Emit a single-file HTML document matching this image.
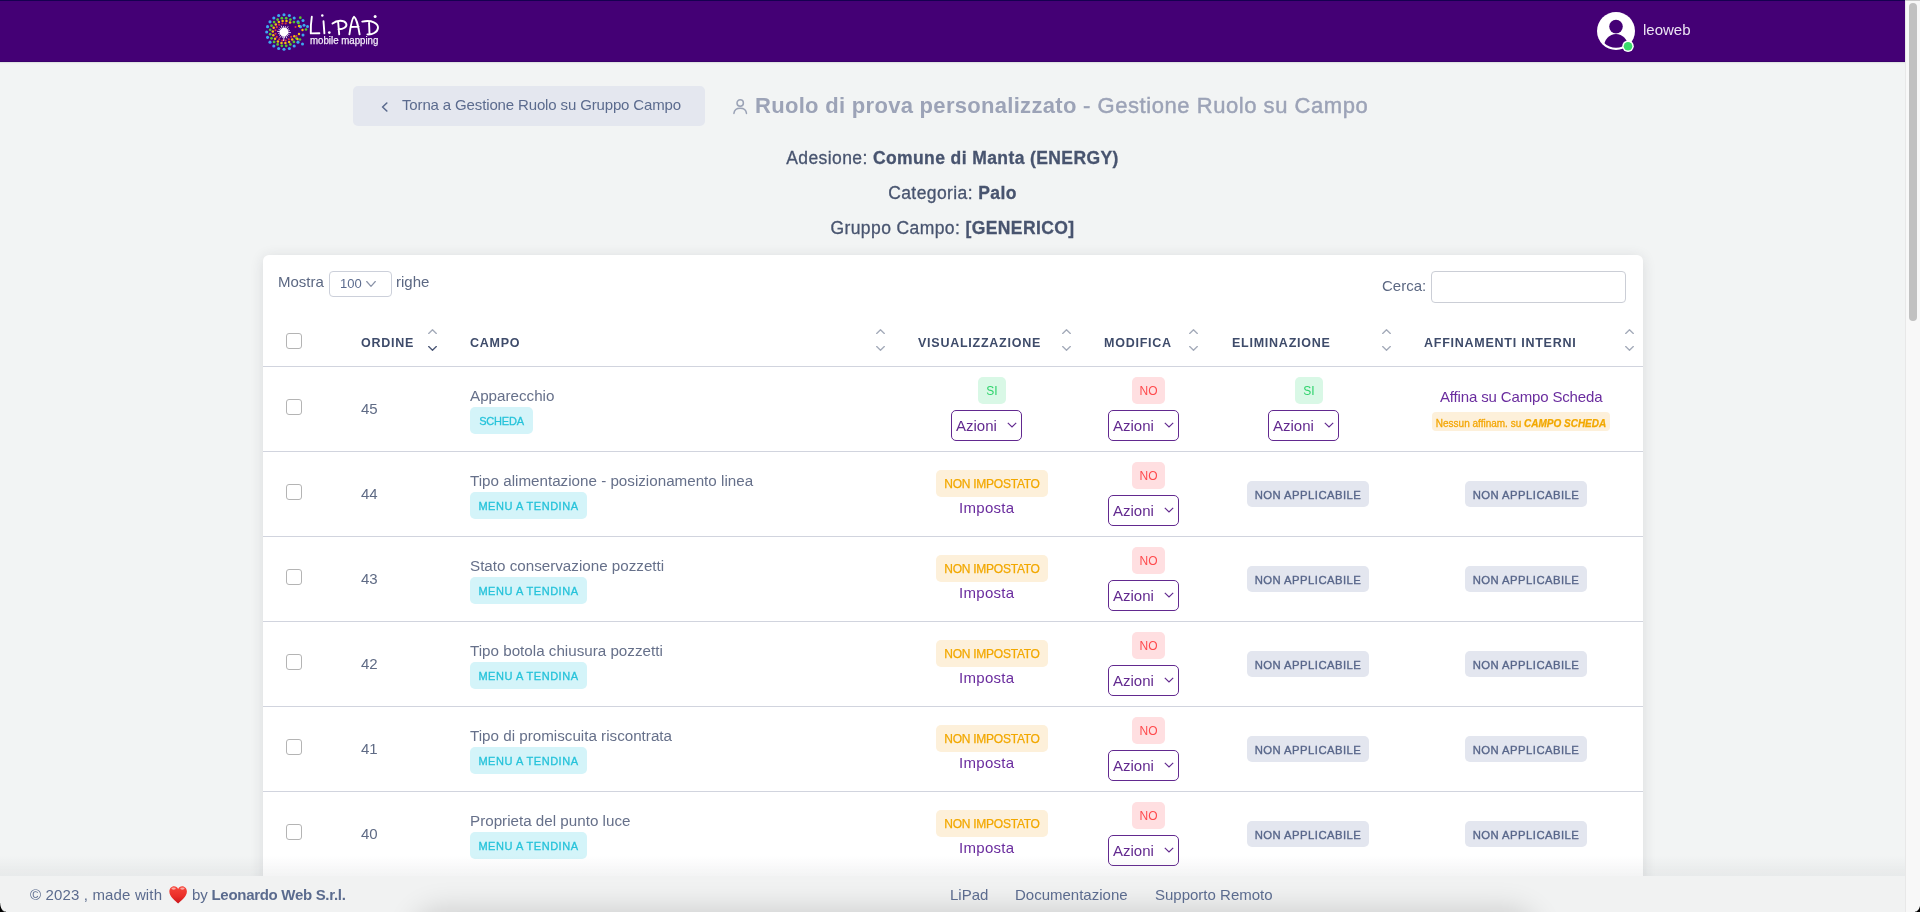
<!DOCTYPE html>
<html><head><meta charset="utf-8"><title>LiPad</title><style>
*{margin:0;padding:0;box-sizing:border-box}
html,body{width:1920px;height:912px;overflow:hidden;background:#f2f4f4;font-family:"Liberation Sans", sans-serif;position:relative}
#root{position:absolute;left:0;top:0;width:1920px;height:912px;overflow:hidden;will-change:transform}
.ab{position:absolute;display:block}
.tx{position:absolute;white-space:nowrap;line-height:1.2}
#hdr{position:absolute;left:0;top:0;width:1905px;height:62px;background:#440075;border-bottom:1px solid #3a006b;box-shadow:0 1px 1px rgba(60,70,65,0.10)}
#hdrline{position:absolute;left:0;top:0;width:1905px;height:1px;background:#160050}
#back{position:absolute;left:353px;top:86px;width:352px;height:40px;background:#e4e7ef;border-radius:5px}
.ctr{position:absolute;left:0;width:1905px;text-align:center;color:#48546f;line-height:1.2;white-space:nowrap;font-size:17.5px!important;letter-spacing:0.4px;-webkit-text-stroke:0.3px #48546f}
.ctr b{font-weight:bold}
#card{position:absolute;left:263px;top:255px;width:1380px;height:700px;background:#fff;border-radius:6px;box-shadow:0 2px 14px rgba(40,45,55,0.12)}
#sel{position:absolute;left:329px;top:271px;width:63px;height:26px;border:1px solid #ccd0da;border-radius:4px;font-size:13px;color:#5b6b8e}
#sel span{position:absolute;left:10px;top:4px}
#srch{position:absolute;left:1431px;top:271px;width:195px;height:32px;border:1px solid #cbced6;border-radius:4px}
.cb{position:absolute;width:16px;height:16px;border:1px solid #b4b4b4;border-radius:3px;background:#fff}
.th{position:absolute;font-size:12.5px;font-weight:bold;letter-spacing:0.75px;color:#3e4b6a;line-height:15px;white-space:nowrap}
.hl{position:absolute;left:263px;width:1380px;height:1px;background:#d1d4de}
.num{font-size:15px;color:#5f6b85}
.nm{font-size:15.2px;color:#66708a}
.lnk{font-size:15px;color:#6a2c9e;letter-spacing:-0.15px}
.bd{position:absolute;text-align:center;border-radius:5px;font-size:12px;white-space:nowrap}
.info{background:#d4f4f9;color:#22c2da;-webkit-text-stroke:0.3px #26c3da;color:#26c3da;font-size:11px!important}
.succ{background:#d9f8e6;color:#2fd36c}
.dang{background:#ffdfe1;color:#ff4a4d}
.warn{background:#fdf0da;color:#f2a800;-webkit-text-stroke:0.25px #f2a800}
.sec{background:#e3e6ef;color:#58668a;-webkit-text-stroke:0.35px #58668a;font-size:11.3px!important}
.sm{font-size:10px;font-weight:bold;border-radius:4px}
.az{position:absolute;width:71px;height:31px;border:1.3px solid #62298f;border-radius:5px;background:#fff;color:#62298f;font-size:15px}
.az span{position:absolute;left:4px;top:6px}
#fshadow{position:absolute;left:0;top:856px;width:1905px;height:20px;background:linear-gradient(to bottom,rgba(140,145,150,0),rgba(140,145,150,0.10))}
#foot{position:absolute;left:0;top:876px;width:1905px;height:36px;background:#f1f2f2;overflow:hidden}
#bsh{position:absolute;left:420px;top:40px;width:1110px;height:40px;border-radius:20px;box-shadow:0 0 30px 6px rgba(0,0,0,0.16)}
.cor{position:absolute;width:7px;height:7px}
.ft{font-size:15px;color:#5b6b8e;top:886px!important}
.ft b{font-weight:bold}
#sbt{position:absolute;left:1905px;top:0;width:15px;height:912px;background:#f8f8f8;border-left:1px solid #e8e8e8}
#sbth{position:absolute;left:1909px;top:3px;width:8px;height:318px;background:#c1c1c1;border-radius:4px}
#sbtop{position:absolute;left:1905px;top:0;width:15px;height:1px;background:#cacaca}
</style></head>
<body><div id="root">
<div id="hdr"></div><div id="hdrline"></div><svg class="ab" style="left:262px;top:8px" width="122" height="46" viewBox="0 0 122 46"><circle cx="36.00" cy="34.17" r="1.55" fill="#3da9f0"/><circle cx="32.17" cy="38.00" r="1.55" fill="#3da9f0"/><circle cx="27.35" cy="40.45" r="1.55" fill="#3da9f0"/><circle cx="22.00" cy="41.30" r="1.55" fill="#3da9f0"/><circle cx="16.65" cy="40.45" r="1.55" fill="#3da9f0"/><circle cx="11.83" cy="38.00" r="1.55" fill="#3da9f0"/><circle cx="8.00" cy="34.17" r="1.55" fill="#3da9f0"/><circle cx="5.55" cy="29.35" r="1.55" fill="#3da9f0"/><circle cx="4.70" cy="24.00" r="1.55" fill="#3da9f0"/><circle cx="5.55" cy="18.65" r="1.55" fill="#3da9f0"/><circle cx="8.00" cy="13.83" r="1.55" fill="#3da9f0"/><circle cx="11.83" cy="10.00" r="1.55" fill="#3da9f0"/><circle cx="16.65" cy="7.55" r="1.55" fill="#3da9f0"/><circle cx="22.00" cy="6.70" r="1.55" fill="#3da9f0"/><circle cx="27.35" cy="7.55" r="1.55" fill="#3da9f0"/><circle cx="32.17" cy="10.00" r="1.55" fill="#3da9f0"/><circle cx="36.00" cy="13.83" r="1.55" fill="#3da9f0"/><circle cx="38.45" cy="18.65" r="1.55" fill="#3da9f0"/><circle cx="34.47" cy="30.36" r="1.35" fill="#56c92a"/><circle cx="31.90" cy="33.90" r="1.35" fill="#56c92a"/><circle cx="28.36" cy="36.47" r="1.35" fill="#56c92a"/><circle cx="24.19" cy="37.83" r="1.35" fill="#56c92a"/><circle cx="19.81" cy="37.83" r="1.35" fill="#56c92a"/><circle cx="15.64" cy="36.47" r="1.35" fill="#56c92a"/><circle cx="12.10" cy="33.90" r="1.35" fill="#56c92a"/><circle cx="9.53" cy="30.36" r="1.35" fill="#56c92a"/><circle cx="8.17" cy="26.19" r="1.35" fill="#56c92a"/><circle cx="8.17" cy="21.81" r="1.35" fill="#56c92a"/><circle cx="9.53" cy="17.64" r="1.35" fill="#56c92a"/><circle cx="12.10" cy="14.10" r="1.35" fill="#56c92a"/><circle cx="15.64" cy="11.53" r="1.35" fill="#56c92a"/><circle cx="19.81" cy="10.17" r="1.35" fill="#56c92a"/><circle cx="24.19" cy="10.17" r="1.35" fill="#56c92a"/><circle cx="28.36" cy="11.53" r="1.35" fill="#56c92a"/><circle cx="31.90" cy="14.10" r="1.35" fill="#56c92a"/><circle cx="32.32" cy="28.35" r="1.25" fill="#f2c10e"/><circle cx="30.21" cy="31.62" r="1.25" fill="#f2c10e"/><circle cx="27.11" cy="33.97" r="1.25" fill="#f2c10e"/><circle cx="23.39" cy="35.11" r="1.25" fill="#f2c10e"/><circle cx="19.51" cy="34.92" r="1.25" fill="#f2c10e"/><circle cx="15.92" cy="33.41" r="1.25" fill="#f2c10e"/><circle cx="13.07" cy="30.76" r="1.25" fill="#f2c10e"/><circle cx="11.30" cy="27.30" r="1.25" fill="#f2c10e"/><circle cx="10.81" cy="23.44" r="1.25" fill="#f2c10e"/><circle cx="11.68" cy="19.65" r="1.25" fill="#f2c10e"/><circle cx="13.79" cy="16.38" r="1.25" fill="#f2c10e"/><circle cx="16.89" cy="14.03" r="1.25" fill="#f2c10e"/><circle cx="20.61" cy="12.89" r="1.25" fill="#f2c10e"/><circle cx="24.49" cy="13.08" r="1.25" fill="#f2c10e"/><circle cx="28.08" cy="14.59" r="1.25" fill="#f2c10e"/><circle cx="29.23" cy="28.83" r="1.05" fill="#e2383f"/><circle cx="26.83" cy="31.23" r="1.05" fill="#e2383f"/><circle cx="23.70" cy="32.53" r="1.05" fill="#e2383f"/><circle cx="20.30" cy="32.53" r="1.05" fill="#e2383f"/><circle cx="17.17" cy="31.23" r="1.05" fill="#e2383f"/><circle cx="14.77" cy="28.83" r="1.05" fill="#e2383f"/><circle cx="13.47" cy="25.70" r="1.05" fill="#e2383f"/><circle cx="13.47" cy="22.30" r="1.05" fill="#e2383f"/><circle cx="14.77" cy="19.17" r="1.05" fill="#e2383f"/><circle cx="17.17" cy="16.77" r="1.05" fill="#e2383f"/><circle cx="20.30" cy="15.47" r="1.05" fill="#e2383f"/><circle cx="23.70" cy="15.47" r="1.05" fill="#e2383f"/><circle cx="38.30" cy="9.70" r="1.35" fill="#56c92a"/><circle cx="41.00" cy="12.50" r="1.5" fill="#3da9f0"/><circle cx="42.00" cy="17.30" r="1.5" fill="#3da9f0"/><circle cx="36.50" cy="15.00" r="1.3" fill="#56c92a"/><circle cx="37.00" cy="18.00" r="1.2" fill="#f2c10e"/><circle cx="40.50" cy="22.00" r="1.2" fill="#f2c10e"/><circle cx="45.50" cy="18.50" r="1.5" fill="#3da9f0"/><circle cx="44.00" cy="21.50" r="1.3" fill="#56c92a"/><circle cx="41.00" cy="27.00" r="1.5" fill="#3da9f0"/><circle cx="37.00" cy="26.00" r="1.2" fill="#f2c10e"/><circle cx="38.00" cy="31.50" r="1.3" fill="#56c92a"/><circle cx="40.50" cy="36.00" r="1.5" fill="#3da9f0"/><circle cx="35.50" cy="31.00" r="1.2" fill="#f2c10e"/><circle cx="34.50" cy="28.00" r="1.0" fill="#e2383f"/><circle cx="33.50" cy="19.00" r="1.0" fill="#e2383f"/><circle cx="22.0" cy="24.0" r="4.3" fill="#fff"/><line x1="25.48" y1="24.35" x2="28.57" y2="24.66" stroke="#fff" stroke-width="0.8" stroke-linecap="round"/><line x1="25.15" y1="25.52" x2="27.04" y2="26.43" stroke="#fff" stroke-width="0.8" stroke-linecap="round"/><line x1="24.44" y1="26.51" x2="25.91" y2="28.01" stroke="#fff" stroke-width="0.8" stroke-linecap="round"/><line x1="23.44" y1="27.19" x2="24.71" y2="30.02" stroke="#fff" stroke-width="0.8" stroke-linecap="round"/><line x1="22.26" y1="27.49" x2="22.42" y2="29.58" stroke="#fff" stroke-width="0.8" stroke-linecap="round"/><line x1="21.05" y1="27.37" x2="20.48" y2="29.39" stroke="#fff" stroke-width="0.8" stroke-linecap="round"/><line x1="19.96" y1="26.84" x2="18.15" y2="29.36" stroke="#fff" stroke-width="0.8" stroke-linecap="round"/><line x1="19.11" y1="25.97" x2="17.37" y2="27.15" stroke="#fff" stroke-width="0.8" stroke-linecap="round"/><line x1="18.61" y1="24.86" x2="16.57" y2="25.38" stroke="#fff" stroke-width="0.8" stroke-linecap="round"/><line x1="18.52" y1="23.65" x2="15.43" y2="23.34" stroke="#fff" stroke-width="0.8" stroke-linecap="round"/><line x1="18.85" y1="22.48" x2="16.96" y2="21.57" stroke="#fff" stroke-width="0.8" stroke-linecap="round"/><line x1="19.56" y1="21.49" x2="18.09" y2="19.99" stroke="#fff" stroke-width="0.8" stroke-linecap="round"/><line x1="20.56" y1="20.81" x2="19.29" y2="17.98" stroke="#fff" stroke-width="0.8" stroke-linecap="round"/><line x1="21.74" y1="20.51" x2="21.58" y2="18.42" stroke="#fff" stroke-width="0.8" stroke-linecap="round"/><line x1="22.95" y1="20.63" x2="23.52" y2="18.61" stroke="#fff" stroke-width="0.8" stroke-linecap="round"/><line x1="24.04" y1="21.16" x2="25.85" y2="18.64" stroke="#fff" stroke-width="0.8" stroke-linecap="round"/><line x1="24.89" y1="22.03" x2="26.63" y2="20.85" stroke="#fff" stroke-width="0.8" stroke-linecap="round"/><line x1="25.39" y1="23.14" x2="27.43" y2="22.62" stroke="#fff" stroke-width="0.8" stroke-linecap="round"/><line x1="22.0" y1="28.0" x2="21.7" y2="33.0" stroke="#fff" stroke-width="0.9"/><path d="M49.80 8.80 C49.00 14.00 48.60 21.00 48.80 25.40 L57.40 25.20" fill="none" stroke="#fff" stroke-width="1.9" stroke-linecap="round" stroke-linejoin="round"/><path d="M61.50 13.30 L62.40 25.40" fill="none" stroke="#fff" stroke-width="1.9" stroke-linecap="round" stroke-linejoin="round"/><circle cx="60.30" cy="7.40" r="1.25" fill="#fff"/><circle cx="67.30" cy="24.60" r="1.35" fill="#fff"/><path d="M76.20 14.50 L77.20 26.40 M70.50 15.60 C75.00 12.00 82.00 11.80 84.20 15.50 C85.50 19.00 81.00 21.30 76.50 21.20" fill="none" stroke="#fff" stroke-width="1.9" stroke-linecap="round" stroke-linejoin="round"/><path d="M87.40 26.30 C88.50 19.00 90.00 10.00 92.00 8.80 C94.00 10.00 96.50 19.00 97.60 26.30 M88.60 19.00 L96.60 18.60" fill="none" stroke="#fff" stroke-width="1.9" stroke-linecap="round" stroke-linejoin="round"/><path d="M107.00 13.80 L107.50 26.00 M100.20 13.60 C110.00 11.50 116.20 15.50 116.00 19.80 C115.50 24.50 110.00 26.80 105.40 26.40" fill="none" stroke="#fff" stroke-width="1.9" stroke-linecap="round" stroke-linejoin="round"/><circle cx="113.10" cy="8.60" r="1.5" fill="#fff"/><text x="48" y="35.8" font-family="Liberation Sans" font-size="10.4" fill="#f4eefa" stroke="#f4eefa" stroke-width="0.25" textLength="68.4" lengthAdjust="spacingAndGlyphs">mobile mapping</text></svg><svg class="ab" style="left:1596px;top:11px" width="44" height="44" viewBox="0 0 44 44">
<circle cx="20" cy="20" r="19" fill="#fff"/>
<circle cx="20" cy="20" r="16.8" fill="none"/>
<circle cx="20" cy="15.6" r="6.8" fill="#440075"/>
<clipPath id="ac"><circle cx="20" cy="20" r="16.8"/></clipPath>
<ellipse cx="20" cy="36" rx="12" ry="13" fill="#440075" clip-path="url(#ac)"/>
<circle cx="32" cy="35.2" r="5.8" fill="#fff"/>
<circle cx="32" cy="35.2" r="4.3" fill="#39da6a"/>
</svg><div class="tx" style="left:1643px;top:21px;font-size:15px;color:#ece4f4">leoweb</div><div id="back"></div><svg class="ab" style="left:381px;top:102px" width="7" height="10" viewBox="0 0 7 10"><path d="M5.8 1 L1.6 5 L5.8 9" fill="none" stroke="#5b6b8e" stroke-width="1.6" stroke-linecap="round" stroke-linejoin="round"/></svg><div class="tx" style="left:402px;top:96px;font-size:15px;letter-spacing:-0.14px;color:#5b6b8e">Torna a Gestione Ruolo su Gruppo Campo</div><svg class="ab" style="left:733px;top:99px" width="15" height="16" viewBox="0 0 15 16"><circle cx="7.2" cy="4.05" r="3.2" fill="none" stroke="#9ba3b6" stroke-width="1.5"/><path d="M0.9 14.4 C1.3 11 3.6 9.3 7.2 9.3 C10.8 9.3 13.1 11 13.5 14.4" fill="none" stroke="#9ba3b6" stroke-width="1.5" stroke-linecap="round"/></svg><div class="tx" style="left:755px;top:93px;font-size:22px;color:#9ca3b7;font-weight:bold;letter-spacing:0.3px">Ruolo di prova personalizzato <span style="font-weight:normal;-webkit-text-stroke:0.45px #9ca3b7;letter-spacing:0.55px">- Gestione Ruolo su Campo</span></div><div class="ctr" style="top:148px;font-size:18px">Adesione: <b>Comune di Manta (ENERGY)</b></div><div class="ctr" style="top:183px;font-size:18px">Categoria: <b>Palo</b></div><div class="ctr" style="top:218px;font-size:18px">Gruppo Campo: <b>[GENERICO]</b></div><div id="card"></div><div class="tx" style="left:278px;top:273px;font-size:15px;color:#5c6883">Mostra</div><div id="sel"><span>100</span></div><svg class="ab" style="left:366px;top:281px" width="10" height="6" viewBox="0 0 10 6"><path d="M0.7 0.5 L5.0 5.3 L9.3 0.5" fill="none" stroke="#8a93a8" stroke-width="1.2" stroke-linecap="round" stroke-linejoin="round"/></svg><div class="tx" style="left:396px;top:273px;font-size:15px;color:#5c6883">righe</div><div class="tx" style="left:1382px;top:277px;font-size:15px;color:#5c6883">Cerca:</div><div id="srch"></div><div class="cb" style="left:286px;top:333px"></div><div class="th" style="left:361px;top:336px">ORDINE</div><div class="th" style="left:470px;top:336px">CAMPO</div><div class="th" style="left:918px;top:336px">VISUALIZZAZIONE</div><div class="th" style="left:1104px;top:336px">MODIFICA</div><div class="th" style="left:1232px;top:336px">ELIMINAZIONE</div><div class="th" style="left:1424px;top:336px">AFFINAMENTI INTERNI</div><svg class="ab" style="left:428px;top:328.5px" width="9" height="5" viewBox="0 0 9 5"><path d="M0.7 4.5 L4.5 0.7 L8.3 4.5" fill="none" stroke="#a3aab9" stroke-width="1.3" stroke-linecap="round" stroke-linejoin="round"/></svg><svg class="ab" style="left:428px;top:345.5px" width="9" height="5" viewBox="0 0 9 5"><path d="M0.7 0.5 L4.5 4.3 L8.3 0.5" fill="none" stroke="#4a5675" stroke-width="1.3" stroke-linecap="round" stroke-linejoin="round"/></svg><svg class="ab" style="left:876px;top:328.5px" width="9" height="5" viewBox="0 0 9 5"><path d="M0.7 4.5 L4.5 0.7 L8.3 4.5" fill="none" stroke="#a3aab9" stroke-width="1.3" stroke-linecap="round" stroke-linejoin="round"/></svg><svg class="ab" style="left:876px;top:345.5px" width="9" height="5" viewBox="0 0 9 5"><path d="M0.7 0.5 L4.5 4.3 L8.3 0.5" fill="none" stroke="#a3aab9" stroke-width="1.3" stroke-linecap="round" stroke-linejoin="round"/></svg><svg class="ab" style="left:1062px;top:328.5px" width="9" height="5" viewBox="0 0 9 5"><path d="M0.7 4.5 L4.5 0.7 L8.3 4.5" fill="none" stroke="#a3aab9" stroke-width="1.3" stroke-linecap="round" stroke-linejoin="round"/></svg><svg class="ab" style="left:1062px;top:345.5px" width="9" height="5" viewBox="0 0 9 5"><path d="M0.7 0.5 L4.5 4.3 L8.3 0.5" fill="none" stroke="#a3aab9" stroke-width="1.3" stroke-linecap="round" stroke-linejoin="round"/></svg><svg class="ab" style="left:1189px;top:328.5px" width="9" height="5" viewBox="0 0 9 5"><path d="M0.7 4.5 L4.5 0.7 L8.3 4.5" fill="none" stroke="#a3aab9" stroke-width="1.3" stroke-linecap="round" stroke-linejoin="round"/></svg><svg class="ab" style="left:1189px;top:345.5px" width="9" height="5" viewBox="0 0 9 5"><path d="M0.7 0.5 L4.5 4.3 L8.3 0.5" fill="none" stroke="#a3aab9" stroke-width="1.3" stroke-linecap="round" stroke-linejoin="round"/></svg><svg class="ab" style="left:1382px;top:328.5px" width="9" height="5" viewBox="0 0 9 5"><path d="M0.7 4.5 L4.5 0.7 L8.3 4.5" fill="none" stroke="#a3aab9" stroke-width="1.3" stroke-linecap="round" stroke-linejoin="round"/></svg><svg class="ab" style="left:1382px;top:345.5px" width="9" height="5" viewBox="0 0 9 5"><path d="M0.7 0.5 L4.5 4.3 L8.3 0.5" fill="none" stroke="#a3aab9" stroke-width="1.3" stroke-linecap="round" stroke-linejoin="round"/></svg><svg class="ab" style="left:1625px;top:328.5px" width="9" height="5" viewBox="0 0 9 5"><path d="M0.7 4.5 L4.5 0.7 L8.3 4.5" fill="none" stroke="#a3aab9" stroke-width="1.3" stroke-linecap="round" stroke-linejoin="round"/></svg><svg class="ab" style="left:1625px;top:345.5px" width="9" height="5" viewBox="0 0 9 5"><path d="M0.7 0.5 L4.5 4.3 L8.3 0.5" fill="none" stroke="#a3aab9" stroke-width="1.3" stroke-linecap="round" stroke-linejoin="round"/></svg><div class="hl" style="top:366px"></div><div class="hl" style="top:451px"></div><div class="cb" style="left:286px;top:399px"></div><div class="tx num" style="left:361px;top:400px">45</div><div class="tx nm" style="left:470px;top:387px">Apparecchio</div><div class="bd info" style="left:470px;top:407px;width:63px;height:27px;line-height:29px;letter-spacing:-0.22px">SCHEDA</div><div class="bd succ" style="left:978px;top:377px;width:28px;height:27px;line-height:29px;letter-spacing:0px">SI</div><div class="az" style="left:951px;top:410px"><span>Azioni</span><svg class="ab" style="left:55px;top:10.5px" width="10" height="6" viewBox="0 0 10 6"><path d="M0.8 0.8 L5 5 L9.2 0.8" fill="none" stroke="#62298f" stroke-width="1.15"/></svg></div><div class="bd dang" style="left:1132px;top:377px;width:33px;height:27px;line-height:29px;letter-spacing:0px">NO</div><div class="az" style="left:1108px;top:410px"><span>Azioni</span><svg class="ab" style="left:55px;top:10.5px" width="10" height="6" viewBox="0 0 10 6"><path d="M0.8 0.8 L5 5 L9.2 0.8" fill="none" stroke="#62298f" stroke-width="1.15"/></svg></div><div class="bd succ" style="left:1295px;top:377px;width:28px;height:27px;line-height:29px;letter-spacing:0px">SI</div><div class="az" style="left:1268px;top:410px"><span>Azioni</span><svg class="ab" style="left:55px;top:10.5px" width="10" height="6" viewBox="0 0 10 6"><path d="M0.8 0.8 L5 5 L9.2 0.8" fill="none" stroke="#62298f" stroke-width="1.15"/></svg></div><div class="tx lnk" style="left:1440px;top:388px">Affina su Campo Scheda</div><div class="bd warn sm" style="left:1432px;top:412px;width:178px;height:19px;line-height:23px"><span style="font-weight:normal;-webkit-text-stroke:0.3px #f5a70e">Nessun affinam. su</span> <i>CAMPO SCHEDA</i></div><div class="hl" style="top:536px"></div><div class="cb" style="left:286px;top:484px"></div><div class="tx num" style="left:361px;top:485px">44</div><div class="tx nm" style="left:470px;top:472px">Tipo alimentazione - posizionamento linea</div><div class="bd info" style="left:470px;top:492px;width:117px;height:27px;line-height:29px;letter-spacing:0.53px">MENU A TENDINA</div><div class="bd warn" style="left:936px;top:470px;width:112px;height:27px;line-height:29px;letter-spacing:-0.25px">NON IMPOSTATO</div><div class="tx lnk" style="left:959px;top:499px;letter-spacing:0.3px">Imposta</div><div class="bd dang" style="left:1132px;top:462px;width:33px;height:27px;line-height:29px;letter-spacing:0px">NO</div><div class="az" style="left:1108px;top:495px"><span>Azioni</span><svg class="ab" style="left:55px;top:10.5px" width="10" height="6" viewBox="0 0 10 6"><path d="M0.8 0.8 L5 5 L9.2 0.8" fill="none" stroke="#62298f" stroke-width="1.15"/></svg></div><div class="bd sec" style="left:1247px;top:481px;width:122px;height:26px;line-height:28px;letter-spacing:0.45px">NON APPLICABILE</div><div class="bd sec" style="left:1465px;top:481px;width:122px;height:26px;line-height:28px;letter-spacing:0.45px">NON APPLICABILE</div><div class="hl" style="top:621px"></div><div class="cb" style="left:286px;top:569px"></div><div class="tx num" style="left:361px;top:570px">43</div><div class="tx nm" style="left:470px;top:557px">Stato conservazione pozzetti</div><div class="bd info" style="left:470px;top:577px;width:117px;height:27px;line-height:29px;letter-spacing:0.53px">MENU A TENDINA</div><div class="bd warn" style="left:936px;top:555px;width:112px;height:27px;line-height:29px;letter-spacing:-0.25px">NON IMPOSTATO</div><div class="tx lnk" style="left:959px;top:584px;letter-spacing:0.3px">Imposta</div><div class="bd dang" style="left:1132px;top:547px;width:33px;height:27px;line-height:29px;letter-spacing:0px">NO</div><div class="az" style="left:1108px;top:580px"><span>Azioni</span><svg class="ab" style="left:55px;top:10.5px" width="10" height="6" viewBox="0 0 10 6"><path d="M0.8 0.8 L5 5 L9.2 0.8" fill="none" stroke="#62298f" stroke-width="1.15"/></svg></div><div class="bd sec" style="left:1247px;top:566px;width:122px;height:26px;line-height:28px;letter-spacing:0.45px">NON APPLICABILE</div><div class="bd sec" style="left:1465px;top:566px;width:122px;height:26px;line-height:28px;letter-spacing:0.45px">NON APPLICABILE</div><div class="hl" style="top:706px"></div><div class="cb" style="left:286px;top:654px"></div><div class="tx num" style="left:361px;top:655px">42</div><div class="tx nm" style="left:470px;top:642px">Tipo botola chiusura pozzetti</div><div class="bd info" style="left:470px;top:662px;width:117px;height:27px;line-height:29px;letter-spacing:0.53px">MENU A TENDINA</div><div class="bd warn" style="left:936px;top:640px;width:112px;height:27px;line-height:29px;letter-spacing:-0.25px">NON IMPOSTATO</div><div class="tx lnk" style="left:959px;top:669px;letter-spacing:0.3px">Imposta</div><div class="bd dang" style="left:1132px;top:632px;width:33px;height:27px;line-height:29px;letter-spacing:0px">NO</div><div class="az" style="left:1108px;top:665px"><span>Azioni</span><svg class="ab" style="left:55px;top:10.5px" width="10" height="6" viewBox="0 0 10 6"><path d="M0.8 0.8 L5 5 L9.2 0.8" fill="none" stroke="#62298f" stroke-width="1.15"/></svg></div><div class="bd sec" style="left:1247px;top:651px;width:122px;height:26px;line-height:28px;letter-spacing:0.45px">NON APPLICABILE</div><div class="bd sec" style="left:1465px;top:651px;width:122px;height:26px;line-height:28px;letter-spacing:0.45px">NON APPLICABILE</div><div class="hl" style="top:791px"></div><div class="cb" style="left:286px;top:739px"></div><div class="tx num" style="left:361px;top:740px">41</div><div class="tx nm" style="left:470px;top:727px">Tipo di promiscuita riscontrata</div><div class="bd info" style="left:470px;top:747px;width:117px;height:27px;line-height:29px;letter-spacing:0.53px">MENU A TENDINA</div><div class="bd warn" style="left:936px;top:725px;width:112px;height:27px;line-height:29px;letter-spacing:-0.25px">NON IMPOSTATO</div><div class="tx lnk" style="left:959px;top:754px;letter-spacing:0.3px">Imposta</div><div class="bd dang" style="left:1132px;top:717px;width:33px;height:27px;line-height:29px;letter-spacing:0px">NO</div><div class="az" style="left:1108px;top:750px"><span>Azioni</span><svg class="ab" style="left:55px;top:10.5px" width="10" height="6" viewBox="0 0 10 6"><path d="M0.8 0.8 L5 5 L9.2 0.8" fill="none" stroke="#62298f" stroke-width="1.15"/></svg></div><div class="bd sec" style="left:1247px;top:736px;width:122px;height:26px;line-height:28px;letter-spacing:0.45px">NON APPLICABILE</div><div class="bd sec" style="left:1465px;top:736px;width:122px;height:26px;line-height:28px;letter-spacing:0.45px">NON APPLICABILE</div><div class="hl" style="top:876px"></div><div class="cb" style="left:286px;top:824px"></div><div class="tx num" style="left:361px;top:825px">40</div><div class="tx nm" style="left:470px;top:812px">Proprieta del punto luce</div><div class="bd info" style="left:470px;top:832px;width:117px;height:27px;line-height:29px;letter-spacing:0.53px">MENU A TENDINA</div><div class="bd warn" style="left:936px;top:810px;width:112px;height:27px;line-height:29px;letter-spacing:-0.25px">NON IMPOSTATO</div><div class="tx lnk" style="left:959px;top:839px;letter-spacing:0.3px">Imposta</div><div class="bd dang" style="left:1132px;top:802px;width:33px;height:27px;line-height:29px;letter-spacing:0px">NO</div><div class="az" style="left:1108px;top:835px"><span>Azioni</span><svg class="ab" style="left:55px;top:10.5px" width="10" height="6" viewBox="0 0 10 6"><path d="M0.8 0.8 L5 5 L9.2 0.8" fill="none" stroke="#62298f" stroke-width="1.15"/></svg></div><div class="bd sec" style="left:1247px;top:821px;width:122px;height:26px;line-height:28px;letter-spacing:0.45px">NON APPLICABILE</div><div class="bd sec" style="left:1465px;top:821px;width:122px;height:26px;line-height:28px;letter-spacing:0.45px">NON APPLICABILE</div><div id="fshadow"></div><div id="foot"><div id="bsh"></div></div><div class="tx ft" style="left:30px;top:885px;letter-spacing:0.15px">&copy; 2023 , made with</div><div class="tx ft" style="left:192px;top:885px">by</div><div class="tx ft" style="left:211.5px;top:885px;font-weight:bold;letter-spacing:-0.3px">Leonardo Web S.r.l.</div><svg class="ab" style="left:168.75px;top:885.75px" width="18.25" height="17.85" viewBox="0 0 18.2 17.9"><defs><linearGradient id="hg" x1="0" y1="0" x2="0" y2="1"><stop offset="0" stop-color="#f7473b"/><stop offset="0.6" stop-color="#ea2d28"/><stop offset="1" stop-color="#c8161c"/></linearGradient></defs><path d="M9.1 17.6 C6.5 15.2 0.3 11 0.3 5.6 C0.3 2.6 2.4 0.3 5.0 0.3 C6.9 0.3 8.3 1.4 9.1 3.0 C9.9 1.4 11.3 0.3 13.2 0.3 C15.8 0.3 17.9 2.6 17.9 5.6 C17.9 11 11.7 15.2 9.1 17.6 Z" fill="url(#hg)"/><ellipse cx="4.6" cy="2.6" rx="2.2" ry="1.1" fill="#fff" opacity="0.55"/><ellipse cx="13.4" cy="2.6" rx="2.2" ry="1.1" fill="#fff" opacity="0.55"/></svg><div class="tx ft" style="left:950px;top:885px">LiPad</div><div class="tx ft" style="left:1015px;top:885px">Documentazione</div><div class="tx ft" style="left:1155px;top:885px">Supporto Remoto</div><div id="sbt"></div><div id="sbth"></div><div id="sbtop"></div><div class="cor" style="left:0;top:903px;width:5.5px;height:9px;background:radial-gradient(5.5px 9px at 5.5px 0,rgba(0,0,0,0) 88%,#000 104%)"></div><div class="cor" style="left:1914.5px;top:903px;width:5.5px;height:9px;background:radial-gradient(5.5px 9px at 0 0,rgba(0,0,0,0) 88%,#000 104%)"></div>
</div></body></html>
